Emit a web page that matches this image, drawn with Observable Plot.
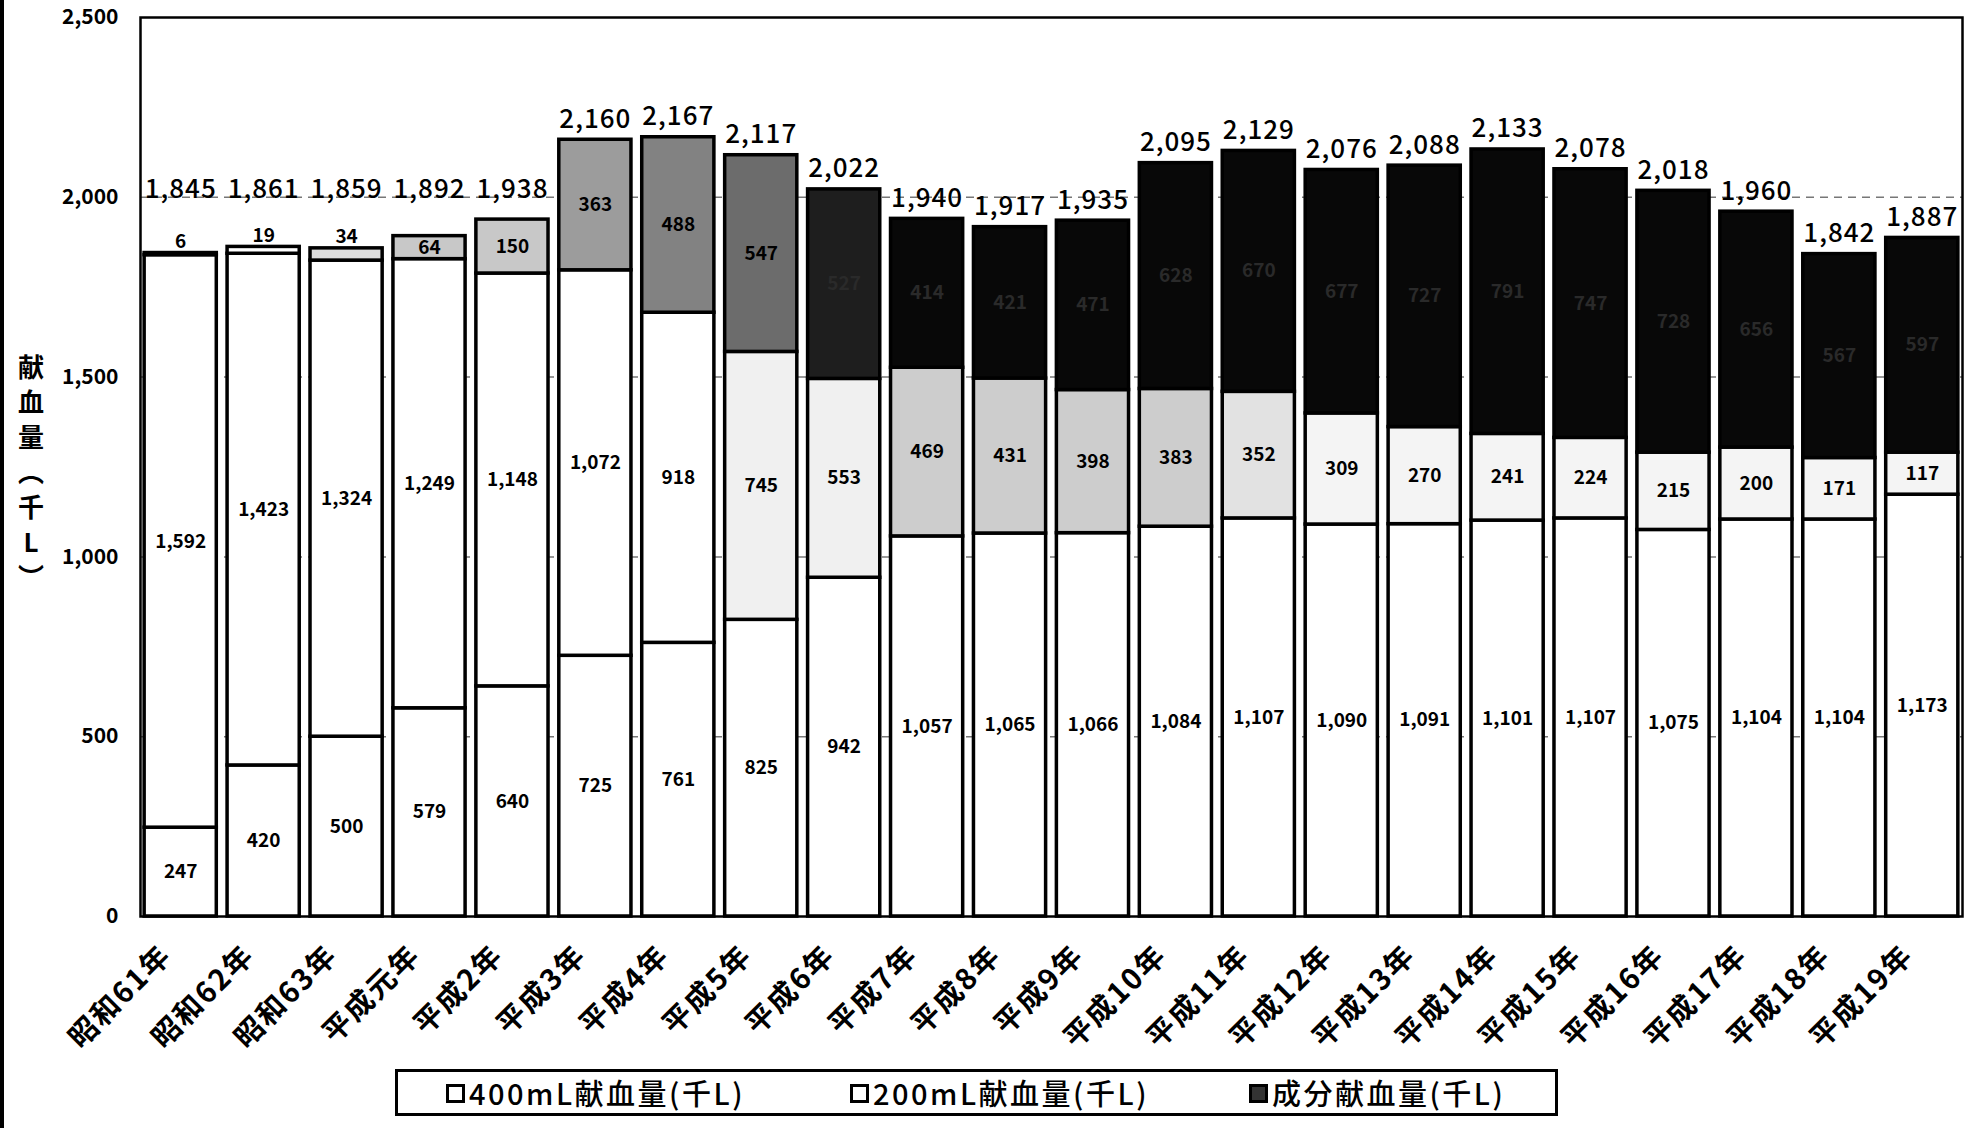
<!DOCTYPE html>
<html>
<head>
<meta charset="utf-8">
<script src="https://cdn.jsdelivr.net/npm/d3@7"></script>
<script src="https://cdn.jsdelivr.net/npm/@observablehq/plot@0.6"></script>
<style>
  html, body { margin: 0; padding: 0; background: #fff; }
  body { width: 1966px; height: 1128px; position: relative; overflow: hidden; font-family: "Noto Sans CJK JP", sans-serif; color: #000; }
  #chart { position: absolute; left: 0; top: 0; }
  #edge { position: absolute; left: 0; top: 0; width: 4px; height: 1128px; background: #000; z-index: 5; }
  #ytitle { position: absolute; left: 14px; top: 348px; width: 34px; font-size: 26px; font-weight: bold; line-height: 35px; text-align: center; z-index: 5; }
  #legend { position: absolute; left: 395px; top: 1069px; width: 1163px; height: 47px; box-sizing: border-box; border: 3px solid #000; background: #fff; z-index: 5; }
  #legend .item { position: absolute; top: 2px; font-size: 29px; font-weight: 500; line-height: 36px; letter-spacing: 2.5px; white-space: nowrap; }
  #legend .sw { display: inline-block; width: 13px; height: 13px; border: 3px solid #000; margin-right: 4px; vertical-align: 2px; background: #fff; }
  #legend .sw.dark { background: #333; }
  #chart svg g[aria-label="x-axis tick label"] text { letter-spacing: 2px; }
  #chart svg g.totals text { letter-spacing: 1px; }
</style>
</head>
<body>
<div id="chart"></div>
<div id="edge"></div>
<div id="ytitle">献<br>血<br>量<br>︵<br>千<br>L<br>︶</div>
<div id="legend">
  <span class="item" style="left:48px"><span class="sw"></span>400mL献血量(千L)</span>
  <span class="item" style="left:452px"><span class="sw"></span>200mL献血量(千L)</span>
  <span class="item" style="left:851px"><span class="sw dark"></span>成分献血量(千L)</span>
</div>
<script>
const years = ["昭和61年","昭和62年","昭和63年","平成元年","平成2年","平成3年","平成4年","平成5年","平成6年","平成7年","平成8年","平成9年","平成10年","平成11年","平成12年","平成13年","平成14年","平成15年","平成16年","平成17年","平成18年","平成19年"];
const vol400 = [247,420,500,579,640,725,761,825,942,1057,1065,1066,1084,1107,1090,1091,1101,1107,1075,1104,1104,1173];
const vol200 = [1592,1423,1324,1249,1148,1072,918,745,553,469,431,398,383,352,309,270,241,224,215,200,171,117];
const component = [6,19,34,64,150,363,488,547,527,414,421,471,628,670,677,727,791,747,728,656,567,597];
const totals = [1845,1861,1859,1892,1938,2160,2167,2117,2022,1940,1917,1935,2095,2129,2076,2088,2133,2078,2018,1960,1842,1887];
const yTicks = [0,500,1000,1500,2000,2500];

const fmt = d3.format(",");

// long table for stacking (bottom to top: 400mL, 200mL, component)
const rows = [];
years.forEach((y, i) => {
  rows.push({year: y, i, series: "400", value: vol400[i]});
  rows.push({year: y, i, series: "200", value: vol200[i]});
  rows.push({year: y, i, series: "comp", value: component[i]});
});

// appearance of the scanned original (style, by position in the series)
function fillOf(d) {
  if (d.series === "400") return "#ffffff";
  if (d.series === "200") {
    if (d.i >= 9 && d.i <= 12) return "#cdcdcd";
    if (d.i === 13) return "#e2e2e2";
    if (d.i === 7 || d.i === 8) return "#f0f0f0";
    if (d.i >= 14) return "#f4f4f4";
    return "#ffffff";
  }
  if (d.i <= 1) return "#ffffff";
  if (d.i === 2) return "#dddddd";
  if (d.i <= 4) return "#c8c8c8";
  if (d.i === 5) return "#9c9c9c";
  if (d.i === 6) return "#828282";
  if (d.i === 7) return "#6c6c6c";
  if (d.i === 8) return "#1e1e1e";
  return "#080808";
}
function labelColor(d) {
  if (d.series === "comp" && d.i >= 8) return "#2a2a2a";
  return "#000";
}

const bigLabels = rows.filter(d => !(d.series === "comp" && d.value < 50));
const smallLabels = rows.filter(d => d.series === "comp" && d.value < 50);

// total labels of the early years (small component) sit up on the 2,000 line
const totalLabelY = (d, i) => component[i] < 200 ? Math.max(totals[i], 1965) : totals[i];

const chart = Plot.plot({
  width: 1966,
  height: 1060,
  marginTop: 17,
  marginBottom: 144,
  marginLeft: 140,
  marginRight: 4,
  style: {fontFamily: "'Noto Sans CJK JP', sans-serif", background: "#fff", color: "#000", overflow: "visible"},
  x: {domain: years, paddingInner: 0.13, paddingOuter: 0.05, round: false, label: null},
  y: {domain: [0, 2500], label: null},
  marks: [
    Plot.ruleY(yTicks.filter(v => v > 0 && v < 2500), {stroke: "#777", strokeWidth: 1.5, strokeDasharray: "8,6"}),
    Plot.barY(rows, {x: "year", y: "value", z: "series", fill: fillOf, stroke: "#000", strokeWidth: 3.5}),
    Plot.text(bigLabels, Plot.stackY({x: "year", y: "value", z: "series", text: d => fmt(d.value), fill: labelColor, fontSize: 19, fontWeight: "bold"})),
    Plot.text(smallLabels, {x: "year", y: d => totals[d.i], text: d => fmt(d.value), lineAnchor: "bottom", dy: -5, fontSize: 19, fontWeight: "bold"}),
    Plot.text(years, {x: d => d, y: totalLabelY, text: (d, i) => fmt(totals[i]), lineAnchor: "bottom", dy: -12, fontSize: 26, fontWeight: 500, className: "totals"}),
    Plot.frame({stroke: "#000", strokeWidth: 2.5}),
    Plot.axisY({ticks: yTicks, tickFormat: fmt, tickSize: 0, tickPadding: 22, fontSize: 21, fontWeight: "bold"}),
    Plot.axisX({tickRotate: -45, tickSize: 0, tickPadding: 34, fontSize: 29, fontWeight: "bold", dx: -14})
  ]
});
document.getElementById("chart").appendChild(chart);
</script>
</body>
</html>
